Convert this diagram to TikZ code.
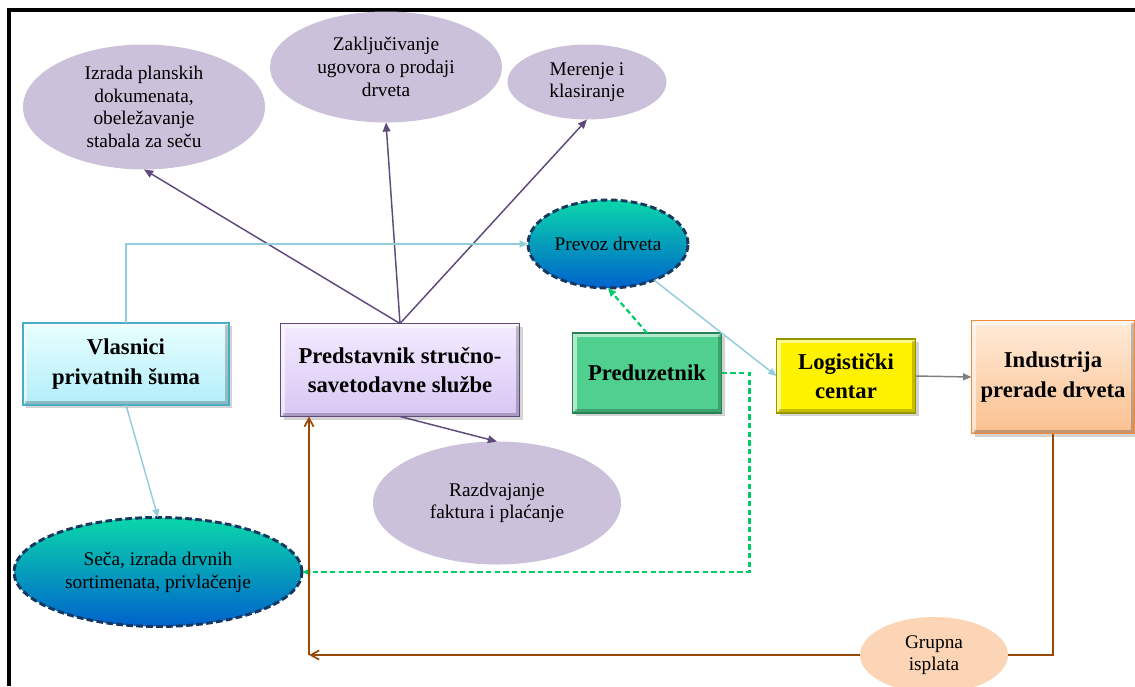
\documentclass[tikz,border=0pt]{standalone}
\usepackage{fontspec}
\setmainfont{Liberation Serif}
\usepackage{tikz}
\usetikzlibrary{shapes.geometric,arrows.meta,shadows}

\definecolor{lilac}{RGB}{204,193,218}
\definecolor{plum}{RGB}{96,74,123}
\definecolor{skyline}{RGB}{147,205,221}
\definecolor{leaf}{RGB}{0,204,102}
\definecolor{rust}{RGB}{152,72,7}
\definecolor{navy}{RGB}{23,55,94}
\definecolor{peach}{RGB}{251,213,181}

\begin{document}
\begin{tikzpicture}[x=0.75pt, y=-0.75pt,
  box/.style={draw, line width=1pt, inner sep=2pt, outer sep=0pt, align=center,
    font=\fontsize{17}{22}\selectfont\bfseries,
    drop shadow={shadow xshift=2.5pt, shadow yshift=-2.5pt, opacity=0.35},
    path picture={
      \draw[white, opacity=0.55, line width=3pt]
        ([shift={(1.5pt,1.5pt)}]path picture bounding box.south west) |- ([shift={(-1.5pt,-1.5pt)}]path picture bounding box.north east);
      \draw[black, opacity=0.22, line width=3pt]
        ([shift={(1.5pt,1.5pt)}]path picture bounding box.south west) -| ([shift={(-1.5pt,-1.5pt)}]path picture bounding box.north east);
    }},
  task/.style={ellipse, fill=lilac, inner sep=0pt, outer sep=0pt, align=center,
    font=\fontsize{14.5}{17}\selectfont},
  field/.style={ellipse, draw=navy, line width=2.2pt, dash pattern=on 5pt off 2.5pt,
    top color={rgb,255:red,10;green,215;blue,170}, middle color={rgb,255:red,30;green,210;blue,228},
    bottom color={rgb,255:red,0;green,98;blue,205},
    inner sep=0pt, outer sep=0pt, align=center, font=\fontsize{14.5}{17}\selectfont},
  link/.style={-{Triangle[length=2.4mm,width=2mm]}, line width=1.1pt, draw=plum},
  haul/.style={-{Triangle[length=2.2mm,width=1.8mm]}, line width=1.1pt, draw=skyline},
  deal/.style={-{Triangle[length=2.2mm,width=1.8mm]}, line width=1.6pt, draw=leaf, dash pattern=on 4pt off 2.5pt},
  pay/.style={-{Straight Barb[length=2.2mm,width=2.4mm]}, line width=1.3pt, draw=rust}
]

\useasboundingbox (0,0) rectangle (1135,686);
\draw[line width=2.4pt] (9,686) -- (9,10) -- (1135,10);

% actors
\node[box, draw={rgb,255:red,75;green,172;blue,198}, top color={rgb,255:red,232;green,255;blue,255},
  bottom color={rgb,255:red,178;green,238;blue,250}, minimum width=154.5pt, minimum height=61.5pt]
  at (126,364) (owners) {Vlasnici\\privatnih šuma};
\node[box, draw=plum, top color={rgb,255:red,244;green,236;blue,255},
  bottom color={rgb,255:red,216;green,198;blue,244}, minimum width=179.25pt, minimum height=69.75pt]
  at (400,370) (service) {Predstavnik stručno-\\savetodavne službe};
\node[box, draw={rgb,255:red,40;green,130;blue,85}, fill={rgb,255:red,80;green,208;blue,143},
  minimum width=111.75pt, minimum height=60pt] at (647,373) (entre) {Preduzetnik};
\node[box, draw={rgb,255:red,150;green,150;blue,0}, fill=yellow,
  minimum width=104.25pt, minimum height=55.5pt] at (846,376) (logist) {Logistički\\centar};
\node[box, draw={rgb,255:red,240;green,140;blue,60}, top color={rgb,255:red,255;green,236;blue,218},
  bottom color={rgb,255:red,250;green,192;blue,143}, minimum width=122.25pt, minimum height=84.75pt]
  at (1053,377) (industry) {Industrija\\prerade drveta};

% activities
\node[task, minimum width=181.5pt, minimum height=93.75pt] at (144,107) (plans)
  {Izrada planskih\\dokumenata,\\obeležavanje\\stabala za seču};
\node[task, minimum width=174pt, minimum height=83.25pt] at (386,67) (contract)
  {Zaključivanje\\ugovora o prodaji\\drveta};
\node[task, minimum width=119.25pt, minimum height=56.25pt] at (587,82) (measure)
  {Merenje i\\klasiranje};
\node[task, minimum width=186pt, minimum height=92.25pt] at (497,503) (invoice)
  {Razdvajanje\\faktura i plaćanje};
\node[field, minimum width=120pt, minimum height=66pt] at (608,244) (transport) {Prevoz drveta};
\node[field, minimum width=216pt, minimum height=81.75pt] at (158,572) (felling)
  {Seča, izrada drvnih\\sortimenata, privlačenje};
\node[ellipse, fill=peach, inner sep=0pt, align=center, font=\fontsize{14.5}{17}\selectfont,
  minimum width=111pt, minimum height=57pt] at (934,655) (payout) {Grupna\\isplata};

\coordinate (turn) at (309,655);

% connectors
\draw[link] (service.north) -- (plans.south);
\draw[link] (service.north) -- (contract.south);
\draw[link] (service.north) -- (measure.south);
\draw[link] (service.south) -- (invoice.north);

\draw[haul] (owners.north) |- (transport.west);
\draw[haul] (owners.south) -- (felling.north);
\draw[haul] (transport) -- (logist.west);

\draw[deal] (entre.north) -- (transport.south);
\draw[deal] (entre.east) -- ++(28,0) |- (felling.east);

\draw[-{Triangle[length=2.2mm,width=1.8mm]}, line width=1.1pt, draw=gray] (logist.east) -- (industry.west);

\draw[line width=1.3pt, draw=rust] (industry.south) |- (payout.east);
\draw[pay] (payout.west) -- (turn);
\draw[pay] (turn) -- (turn |- service.south);

\end{tikzpicture}
\end{document}
